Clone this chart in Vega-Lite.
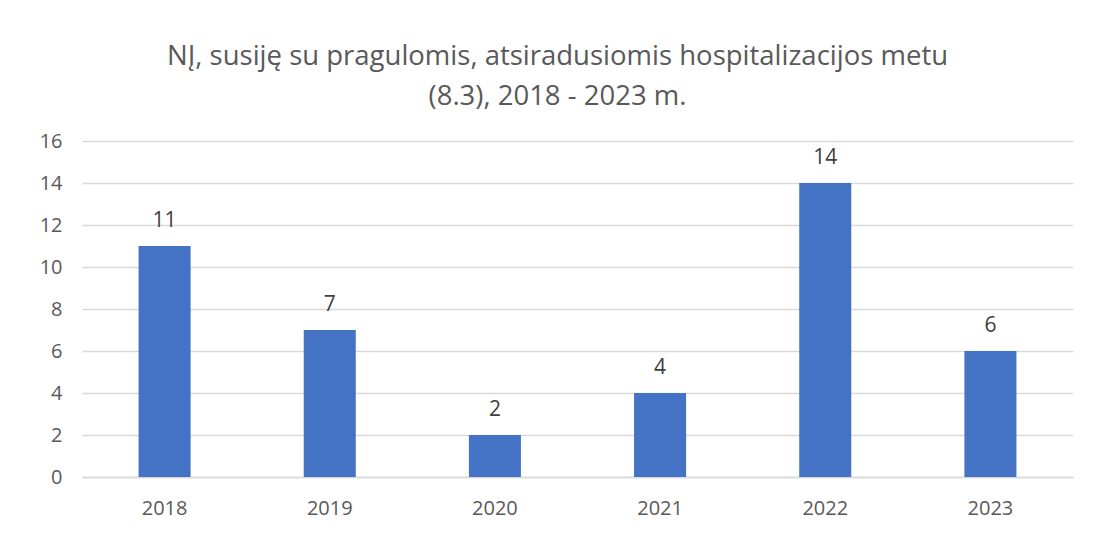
{
  "$schema": "https://vega.github.io/schema/vega-lite/v6.json",
  "autosize": "none",
  "width": 991,
  "height": 336,
  "padding": {"left": 82, "top": 141, "right": 22, "bottom": 76},
  "background": "white",
  "title": {
    "text": ["NĮ, susiję su pragulomis, atsiradusiomis hospitalizacijos metu", "(8.3), 2018 - 2023 m."],
    "font": "Open Sans",
    "fontSize": 27.5,
    "fontWeight": "normal",
    "color": "#595959",
    "anchor": "middle",
    "dx": -20,
    "offset": 21,
    "lineHeight": 40
  },
  "data": {
    "values": [
      {"year": "2018", "value": 11},
      {"year": "2019", "value": 7},
      {"year": "2020", "value": 2},
      {"year": "2021", "value": 4},
      {"year": "2022", "value": 14},
      {"year": "2023", "value": 6}
    ]
  },
  "encoding": {
    "x": {
      "field": "year",
      "type": "nominal",
      "scale": {"paddingInner": 0.685, "paddingOuter": 0.3425},
      "axis": {
        "title": null,
        "labelAngle": 0,
        "labelPadding": 21,
        "ticks": false,
        "domainColor": "#D9D9D9",
        "domainWidth": 1.5
      }
    },
    "y": {
      "field": "value",
      "type": "quantitative",
      "scale": {"domain": [0, 16]},
      "axis": {
        "title": null,
        "values": [0, 2, 4, 6, 8, 10, 12, 14, 16],
        "labelPadding": 20,
        "ticks": false,
        "domain": false,
        "gridColor": "#D9D9D9",
        "gridWidth": 1.5
      }
    }
  },
  "layer": [
    {"mark": {"type": "bar", "color": "#4472C4"}},
    {
      "mark": {"type": "text", "dy": -25, "font": "Open Sans", "fontSize": 21, "color": "#404040"},
      "encoding": {"text": {"field": "value", "type": "quantitative"}}
    }
  ],
  "config": {
    "view": {"stroke": null},
    "axis": {"labelFont": "Open Sans", "labelFontSize": 20, "labelColor": "#595959"}
  }
}
